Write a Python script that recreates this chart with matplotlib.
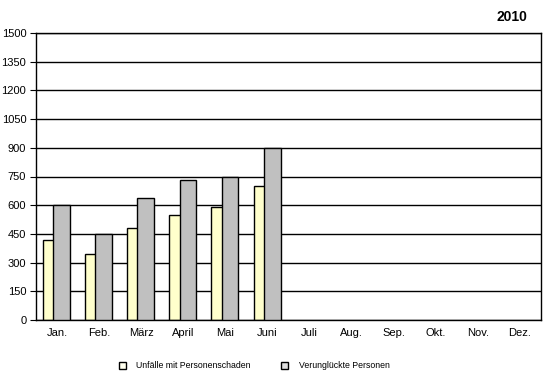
import numpy as np
import matplotlib.pyplot as plt
from matplotlib.patches import Patch

months = ["Jan.", "Feb.", "März", "April", "Mai", "Juni",
          "Juli", "Aug.", "Sep.", "Okt.", "Nov.", "Dez."]
unfaelle = [420, 345, 480, 550, 590, 700]
verunglueckte = [600, 450, 640, 730, 750, 900]
yticks = [0, 150, 300, 450, 600, 750, 900, 1050, 1200, 1350, 1500]

plt.rcParams['font.family'] = ['Liberation Sans', 'DejaVu Sans']

fig = plt.figure(figsize=(5.5, 3.83), dpi=100)
ax = fig.add_axes([36 / 550, 1 - 320 / 383, 505 / 550, 287 / 383])

x = np.arange(len(unfaelle))
w = 0.4
ax.bar(x - 0.13, unfaelle, w, color="#FFFFCC", edgecolor="black", linewidth=1, zorder=2)
ax.bar(x + 0.11, verunglueckte, w, color="#C0C0C0", edgecolor="black", linewidth=1, zorder=3)

ax.set_xlim(-0.5, len(months) - 0.5)
ax.set_ylim(0, 1500)
ax.set_yticks(yticks)
ax.set_xticks(np.arange(len(months)))
ax.set_xticklabels(months)
ax.yaxis.grid(True, color="black", linewidth=1, zorder=0)
ax.set_axisbelow(True)
ax.tick_params(axis="both", labelsize=8, length=0, pad=6, colors="black")
ax.tick_params(axis="y", length=4, direction="out", pad=3)
for s in ax.spines.values():
    s.set_linewidth(1)

fig.text(527 / 550, 1 - 17 / 383, "2010", ha="right", va="center",
         fontsize=10, fontweight="bold")

handles = [Patch(facecolor="#FFFFEE", edgecolor="black"),
           Patch(facecolor="#E0E0E0", edgecolor="black")]
fig.legend(handles, ["Unfälle mit Personenschaden", "Verunglückte Personen"],
           loc="center", bbox_to_anchor=(254 / 550, 1 - 366 / 383), ncol=2,
           frameon=False, fontsize=6.3, handlelength=0.8, handleheight=0.8,
           columnspacing=3.5, handletextpad=1.2)

fig.savefig("out.png", dpi=100)
